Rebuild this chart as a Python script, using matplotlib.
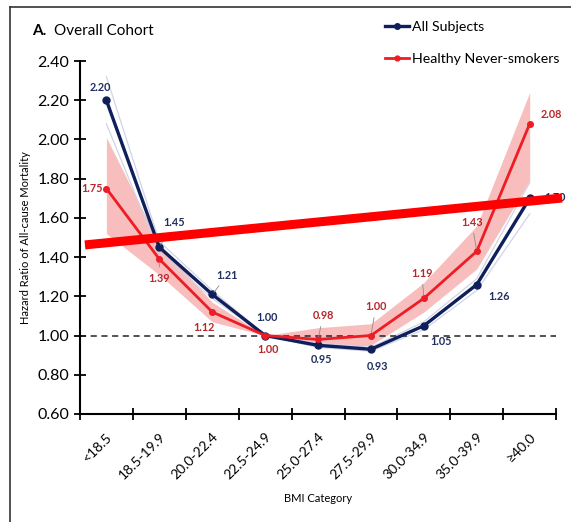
#!/usr/bin/env python3

import matplotlib
matplotlib.use("Agg")
import matplotlib.pyplot as plt
from matplotlib.lines import Line2D
import numpy as np

plt.rcParams['font.family'] = ['Lato', 'DejaVu Sans']

categories = ["<18.5", "18.5-19.9", "20.0-22.4", "22.5-24.9", "25.0-27.4",
              "27.5-29.9", "30.0-34.9", "35.0-39.9", "\u226540.0"]

all_hr = [2.20, 1.45, 1.21, 1.00, 0.95, 0.93, 1.05, 1.26, 1.70]
all_lo = [2.08, 1.42, 1.19, 1.00, 0.94, 0.92, 1.03, 1.23, 1.62]
all_hi = [2.32, 1.48, 1.23, 1.00, 0.96, 0.94, 1.07, 1.29, 1.78]

hns_hr = [1.75, 1.39, 1.12, 1.00, 0.98, 1.00, 1.19, 1.43, 2.08]
hns_lo = [1.52, 1.31, 1.07, 1.00, 0.94, 0.95, 1.12, 1.34, 1.79]
hns_hi = [2.01, 1.47, 1.17, 1.00, 1.04, 1.06, 1.27, 1.56, 2.24]

# label offsets in pixels (dx, dy) and whether a leader line is drawn
all_offsets = [(-6, 13, False), (15, 25, True), (15, 19, True), (2, 18, False),
               (3, -14, False), (7, -17, False), (17, -16, False),
               (22, -12, False), (25, 1, False)]
hns_offsets = [(-14, 0, False), (0, -19, True), (-8, -15, False), (3, -14, False),
               (5, 24, True), (5, 29, True), (-2, 25, True), (-5, 29, True),
               (22, 9, False)]

NAVY = "#0e1f5b"
RED = "#ee1c24"
NAVY_TXT = "#1f2e5e"
RED_TXT = "#b8262b"

fig = plt.figure(figsize=(5.71, 5.22), dpi=100)
ax = fig.add_axes([0.140, 0.207, 0.834, 0.676])

x = np.arange(len(categories))

ax.fill_between(x, hns_lo, hns_hi, color="#f6a9a9", alpha=0.75, lw=0, zorder=1)
ax.plot(x, all_lo, color="#d0d4e6", lw=0.9, zorder=2)
ax.plot(x, all_hi, color="#d0d4e6", lw=0.9, zorder=2)

ax.axhline(1.0, color="#222222", lw=1.1, ls=(0, (4, 3)), zorder=2)

ax.plot(x, all_hr, color=NAVY, lw=2.4, marker="o", ms=5, zorder=4)
ax.plot(x, hns_hr, color=RED, lw=2.0, marker="o", ms=4, zorder=5)

for xi, v, (dx, dy, lead) in zip(x, all_hr, all_offsets):
    arrow = dict(arrowstyle="-", color="#8a8a8a", lw=0.6, shrinkA=2, shrinkB=2) if lead else None
    ax.annotate(f"{v:.2f}", (xi, v), xytext=(dx, dy), textcoords="offset pixels",
                ha="center", va="center", fontsize=7.8, fontweight="bold",
                color=NAVY_TXT, arrowprops=arrow, zorder=6)

for xi, v, (dx, dy, lead) in zip(x, hns_hr, hns_offsets):
    arrow = dict(arrowstyle="-", color="#8a8a8a", lw=0.6, shrinkA=2, shrinkB=2) if lead else None
    ax.annotate(f"{v:.2f}", (xi, v), xytext=(dx, dy), textcoords="offset pixels",
                ha="center", va="center", fontsize=7.8, fontweight="bold",
                color=RED_TXT, arrowprops=arrow, zorder=6)

# thick red bar across the plot
ax.add_line(Line2D([0.0105, 1.0126], [0.479, 0.612], transform=ax.transAxes,
                   color="#ff0000", lw=6.5, solid_capstyle="butt",
                   clip_on=False, zorder=10))

ax.set_xlim(-0.5, len(categories) - 0.5)
ax.set_ylim(0.6, 2.4)
ax.set_yticks(np.arange(0.6, 2.41, 0.2))
ax.set_yticklabels([f"{t:.2f}" for t in np.arange(0.6, 2.41, 0.2)], fontsize=11.5)

ax.set_xticks(np.arange(-0.5, len(categories)), labels=[""] * (len(categories) + 1))
ax.set_xticks(x, minor=True)
ax.set_xticklabels(categories, minor=True, rotation=45, ha="right",
                   rotation_mode="anchor", fontsize=10)
ax.tick_params(axis="x", which="minor", length=0, pad=12)
ax.tick_params(axis="both", which="major", direction="inout", length=8, width=1.3)

for side in ("top", "right"):
    ax.spines[side].set_visible(False)
for side in ("left", "bottom"):
    ax.spines[side].set_linewidth(1.5)

ax.set_ylabel("Hazard Ratio of All-cause Mortality", fontsize=8, labelpad=5)
ax.set_xlabel("BMI Category", fontsize=8, labelpad=8)

fig.text(0.056, 0.940, "A.", fontsize=11, fontweight="bold", va="center")
fig.text(0.094, 0.940, "Overall Cohort", fontsize=11, va="center")

handles = [Line2D([], [], color=NAVY, lw=2.4, marker="o", ms=4),
           Line2D([], [], color=RED, lw=2.0, marker="o", ms=3.5)]
fig.legend(handles, ["All Subjects", "Healthy Never-smokers"],
           loc="upper left", bbox_to_anchor=(0.652, 0.985), frameon=False,
           fontsize=10.2, handlelength=1.7, handletextpad=0.2, labelspacing=1.45)

# outer frame: left and top edges
fig.add_artist(Line2D([0.0175, 0.0175], [0.0, 0.987], transform=fig.transFigure,
                      color="#333333", lw=1.2))
fig.add_artist(Line2D([0.0175, 1.0], [0.987, 0.987], transform=fig.transFigure,
                      color="#333333", lw=1.2))

fig.savefig("out.png", dpi=100)
